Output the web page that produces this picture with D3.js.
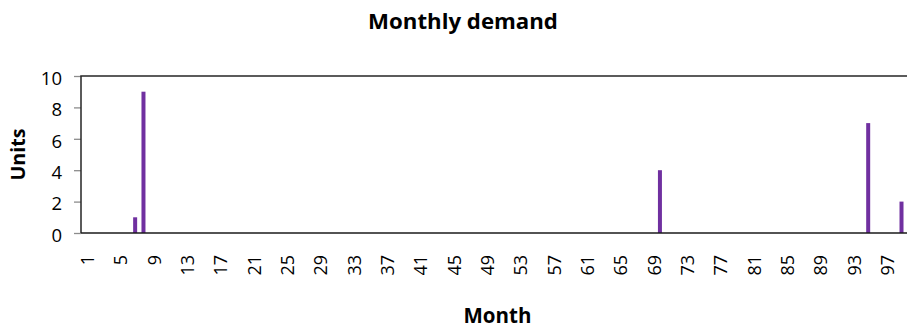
<!DOCTYPE html>
<html>
<head>
<meta charset="utf-8">
<script src="https://cdn.jsdelivr.net/npm/d3@7"></script>
<style>
  html, body { margin: 0; padding: 0; background: #fff; overflow: hidden; }
  svg { display: block; }
</style>
</head>
<body>
<svg id="chart" width="907" height="328"></svg>
<script>
// ---- data ----
const titleText = "Monthly demand";
const xTitle = "Month";
const yTitle = "Units";
const months = [
  1,2,3,4,5,6,7,8,9,10,11,12,13,14,15,16,17,18,19,20,
  21,22,23,24,25,26,27,28,29,30,31,32,33,34,35,36,37,38,39,40,
  41,42,43,44,45,46,47,48,49,50,51,52,53,54,55,56,57,58,59,60,
  61,62,63,64,65,66,67,68,69,70,71,72,73,74,75,76,77,78,79,80,
  81,82,83,84,85,86,87,88,89,90,91,92,93,94,95,96,97,98,99,100
];
const demand = [
  0,0,0,0,0,0,1,9,0,0,0,0,0,0,0,0,0,0,0,0,
  0,0,0,0,0,0,0,0,0,0,0,0,0,0,0,0,0,0,0,0,
  0,0,0,0,0,0,0,0,0,0,0,0,0,0,0,0,0,0,0,0,
  0,0,0,0,0,0,0,0,0,4,0,0,0,0,0,0,0,0,0,0,
  0,0,0,0,0,0,0,0,0,0,0,0,0,0,7,0,0,0,2,0
];
const xTickLabels = [1,5,9,13,17,21,25,29,33,37,41,45,49,53,57,61,65,69,73,77,81,85,89,93,97];
const yTickValues = [0,2,4,6,8,10];

// ---- layout ----
const plot = { left: 81, top: 76, right: 914, bottom: 233 };
const barColor = "#7030A0";
const font = "'Open Sans', 'Liberation Sans', sans-serif";

const svg = d3.select("#chart");

const x = d3.scaleBand()
  .domain(months)
  .range([plot.left, plot.right])
  .paddingInner(0.52)
  .paddingOuter(0.26);

const y = d3.scaleLinear().domain([0, 10]).range([plot.bottom, plot.top]);

// y axis ticks (gray tick marks) + labels
const yAxis = d3.axisLeft(y).tickValues(yTickValues).tickSize(7).tickPadding(8);
const gy = svg.append("g").attr("transform", `translate(${plot.left},0)`).call(yAxis);
gy.select(".domain").remove();
gy.selectAll(".tick line").attr("stroke", "#8c8c8c").attr("stroke-width", 1.3);
gy.selectAll(".tick text")
  .attr("font-family", font).attr("font-size", 18.5).attr("fill", "#000")
  .attr("dy", "0.45em")
  .attr("x", -19);

// bars
svg.append("g").selectAll("rect")
  .data(months.map((m, i) => ({ m, v: demand[i] })).filter(d => d.v > 0))
  .join("rect")
  .attr("x", d => x(d.m))
  .attr("width", x.bandwidth())
  .attr("y", d => y(d.v))
  .attr("height", d => y(0) - y(d.v))
  .attr("fill", barColor);

// plot frame: top, left, right
svg.append("path")
  .attr("d", `M${plot.left},${plot.bottom} V${plot.top} H${plot.right} V${plot.bottom}`)
  .attr("fill", "none").attr("stroke", "#262626").attr("stroke-width", 1.5);

// x axis (category axis)
const xAxis = d3.axisBottom(x).tickValues(xTickLabels).tickSize(0).tickFormat(d3.format("d"));
const gx = svg.append("g").attr("transform", `translate(0,${plot.bottom})`).call(xAxis);
gx.select(".domain").remove();
gx.selectAll(".tick text")
  .attr("font-family", font).attr("font-size", 18).attr("fill", "#000")
  .attr("text-anchor", "end")
  .attr("transform", "translate(0,22) rotate(-90)")
  .attr("x", 0).attr("y", 0)
  .attr("dy", "0.5em");

svg.append("line")
  .attr("x1", plot.left).attr("x2", plot.right)
  .attr("y1", plot.bottom).attr("y2", plot.bottom)
  .attr("stroke", "#1a1a1a").attr("stroke-width", 1.5);

// titles
function fitText(sel, target) {
  const w = sel.node().getComputedTextLength();
  const fs = parseFloat(sel.attr("font-size"));
  sel.attr("font-size", fs * target / w);
}
const t = svg.append("text").text(titleText)
  .attr("x", 463).attr("y", 29)
  .attr("text-anchor", "middle")
  .attr("font-family", font).attr("font-weight", "bold").attr("font-size", 20);
fitText(t, 190);

const xt = svg.append("text").text(xTitle)
  .attr("x", (plot.left + plot.right) / 2).attr("y", 323)
  .attr("text-anchor", "middle")
  .attr("font-family", font).attr("font-weight", "bold").attr("font-size", 17);
fitText(xt, 68);

const yt = svg.append("text").text(yTitle)
  .attr("transform", `translate(25,${(plot.top + plot.bottom) / 2}) rotate(-90)`)
  .attr("text-anchor", "middle")
  .attr("font-family", font).attr("font-weight", "bold").attr("font-size", 17);
fitText(yt, 52);
</script>
</body>
</html>
